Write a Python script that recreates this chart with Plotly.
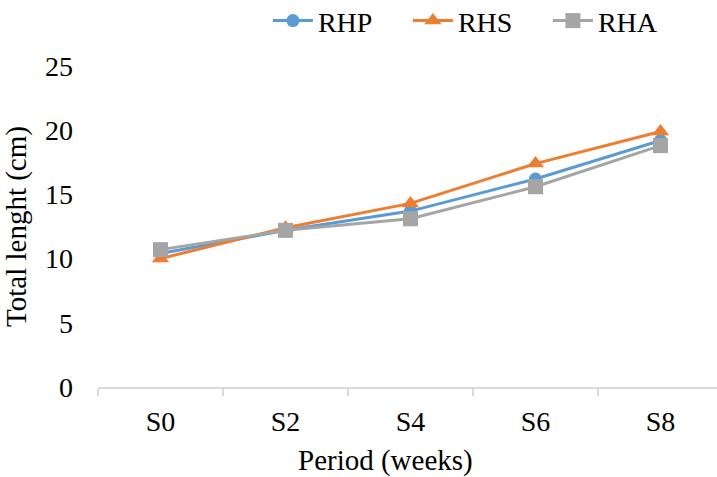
import plotly.graph_objects as go

categories = ["S0", "S2", "S4", "S6", "S8"]
rhp = [10.4, 12.2, 13.7, 16.2, 19.2]
rhs = [10.0, 12.4, 14.3, 17.4, 19.9]
rha = [10.7, 12.2, 13.1, 15.6, 18.8]

series = [
    ("RHP", rhp, "#5B9BD5", "circle", 13),
    ("RHS", rhs, "#ED7D31", "triangle-up", 15),
    ("RHA", rha, "#A5A5A5", "square", 15),
]

fig = go.Figure()
for name, vals, color, sym, size in series:
    fig.add_trace(go.Scatter(
        x=categories, y=vals, name=name, mode="lines+markers",
        line=dict(color=color, width=3),
        marker=dict(symbol=sym, size=size, color=color),
    ))

font = "Liberation Serif, Times New Roman, serif"
fig.update_layout(
    width=717, height=477,
    margin=dict(l=98, r=0, t=66, b=90, autoexpand=False),
    paper_bgcolor="white", plot_bgcolor="white",
    font=dict(family=font, size=28, color="black"),
    showlegend=True,
    legend=dict(orientation="h", x=0.2745, xanchor="left", y=1.1405, yanchor="middle",
                font=dict(size=28), entrywidth=85, itemwidth=40,
                tracegroupgap=0),
    xaxis=dict(
        type="category", range=[-0.5, 4.452], automargin=False,
        showline=True, linecolor="#D9D9D9", linewidth=2,
        ticks="outside", tickson="boundaries", ticklen=7, tickcolor="#D9D9D9", tickwidth=2,
        ticklabelstandoff=8,
        showgrid=False, zeroline=False,
    ),
    yaxis=dict(
        range=[0, 25], dtick=5, showgrid=False, zeroline=False, showline=False,
        ticks="", ticklabelstandoff=24, automargin=False,
        title=dict(text="Total lenght (cm)", standoff=10, font=dict(size=29)),
    ),
    annotations=[dict(
        text="Period (weeks)", xref="paper", yref="paper",
        x=0.4637, y=-0.229, xanchor="center", yanchor="middle",
        showarrow=False, font=dict(size=29),
    )],
)
fig.write_html("out.html")
